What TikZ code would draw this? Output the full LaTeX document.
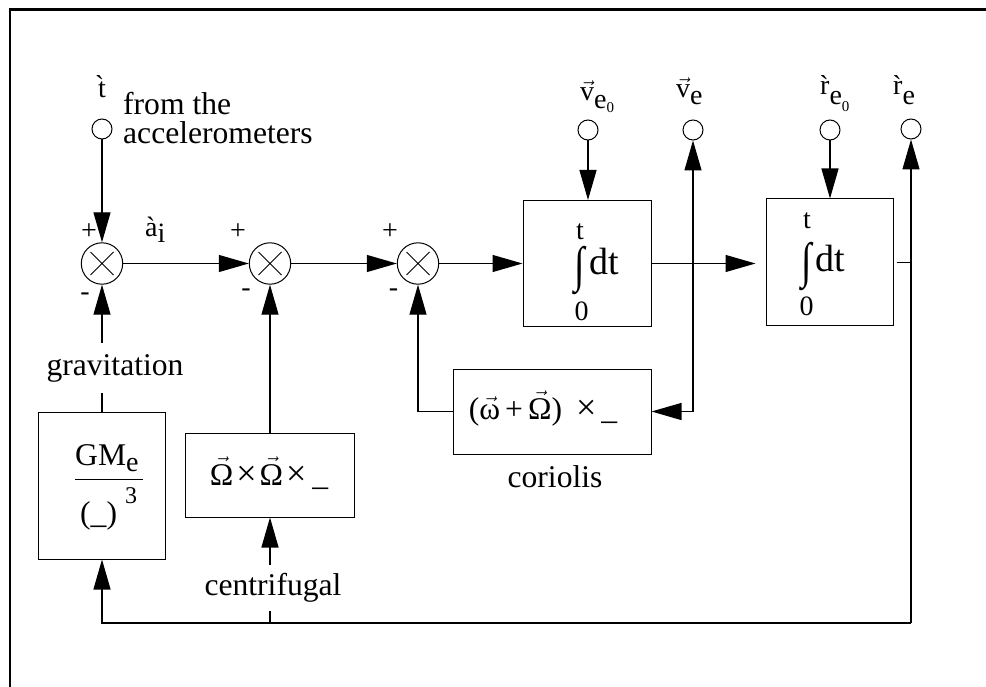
\documentclass[tikz,border=0pt]{standalone}
\usepackage{fontspec}
\usepackage{graphicx}
\setmainfont{Liberation Serif}
\usetikzlibrary{arrows.meta}
\newcommand\vv[1]{\ensuremath{\vec{\hbox{#1}}}}
\newcommand\fsz[1]{\fontsize{#1}{#1}\selectfont}
\begin{document}
\begin{tikzpicture}[x=1pt,y=-1pt,
  lbl/.style={font=\fsz{31.6}, inner sep=0},
  sym/.style={font=\fsz{28}, inner sep=0},
  intg/.style={font=\fsz{38}, inner sep=0},
  blk/.style={draw, line width=1pt, inner sep=0, rectangle},
  sumj/.style={draw, circle, line width=1pt, minimum size=41.4pt, inner sep=0,
    path picture={\draw[line width=1pt]
      ([shift={(-11.5pt,-11.5pt)}]path picture bounding box.center) -- ++(23pt,23pt)
      ([shift={(-11.5pt,11.5pt)}]path picture bounding box.center) -- ++(23pt,-23pt);}},
  dotn/.style={draw, circle, line width=1pt, minimum size=20pt, inner sep=0},
  con/.style={line width=1.2pt},
  arr/.style={con, -{Triangle[length=30pt,width=17pt]}},
  darr/.style={con, {Triangle[length=30pt,width=17pt]}-{Triangle[length=30pt,width=17pt]}},
  ]
\useasboundingbox (0,0) rectangle (986,687);
% outer frame (top and left only visible)
\draw[line width=2.5pt] (10,687) -- (10,9.5) -- (986,9.5);

% main nodes
\node[dotn] (fdot) at (102,129) {};
\node[sumj] (s1) at (102,263.5) {};
\node[sumj] (s2) at (270,263.5) {};
\node[sumj] (s3) at (418,263.5) {};
\node[blk, minimum width=128pt, minimum height=126pt] (i1) at (587,263.5) {};
\node[blk, minimum width=127pt, minimum height=127pt] (i2) at (829.5,262.5) {};
\node[dotn] (v0dot) at (588,130) {};
\node[dotn] (vdot) at (693,130) {};
\node[dotn] (r0dot) at (830,130) {};
\node[dotn] (rdot) at (911,129) {};
\node[blk, minimum width=198pt, minimum height=85pt] (cor) at (552,411.5) {};
\node[blk, minimum width=127pt, minimum height=147pt] (gm) at (102,485.5) {};
\node[blk, minimum width=169pt, minimum height=84pt] (cen) at (270,475) {};
\coordinate (fbR) at (911,623);

% connectors
\draw[arr] (fdot) -- (s1);
\draw[arr] (s1) -- (s2);
\draw[arr] (s2) -- (s3);
\draw[arr] (s3) -- (i1);
\draw[arr] (v0dot.south) -- (v0dot.south |- i1.north);
\draw[arr, shorten >=10pt] (i1.east) -- (i1.east -| i2.west);
\draw[arr] (r0dot.south) -- (r0dot.south |- i2.north);
\draw[con] ([xshift=3pt]i2.east) -- (i2.east -| rdot.south);
\draw[arr] (fbR) -- (rdot.south);
\draw[arr] (fbR) -| (gm.south);
\draw[arr] (cen.south |- fbR) -- (cen.south);
\draw[arr] (gm.north) -- (s1.south);
\draw[arr] (cen.north) -- (s2.south);
\draw[darr] (cor.east) -| (vdot.south);
\draw[arr] (cor.west) -| (s3.south);

% labels interrupting lines
\node[lbl, fill=white, minimum height=50pt] (grav) at (115,368) {gravitation};
\node[lbl, fill=white, minimum height=46pt] (cfl) at (273,588) {centrifugal};
\node[lbl, anchor=base] (corl) at (555,487) {coriolis};

% input / output labels
\node[sym, anchor=base] (flab) at (102,98) {\`t};
\node[lbl, anchor=base west] (acc1) at (123,115) {from the};
\node[lbl, anchor=base west] (acc2) at (123,144) {accelerometers};
\node[sym, anchor=base west] (alab) at (145,237) {\`a\raisebox{-6pt}{i}};
\node[sym, anchor=base west] (v0lab) at (580,101) {\vv{v}\raisebox{-8pt}{e\raisebox{-4pt}{\fsz{15}0}}};
\node[sym, anchor=base west] (vlab) at (676,98) {\vv{v}\raisebox{-7pt}{e}};
\node[sym, anchor=base west] (r0lab) at (820,95) {\`r\raisebox{-10pt}{e\raisebox{-7pt}{\fsz{15}0}}};
\node[sym, anchor=base west] (rlab) at (893,95) {\`r\raisebox{-10pt}{e}};

% signs at the junctions
\node[sym] (p1) at (89,232) {+};
\node[sym] (m1) at (85,297) {-};
\node[sym] (p2) at (238,232) {+};
\node[sym] (m2) at (246,293) {-};
\node[sym] (p3) at (390,232) {+};
\node[sym] (m3) at (393.5,293) {-};

% integrators
\node[sym, anchor=base] (i1t) at (580,240) {t};
\node[intg] (i1int) at (580,270.5) {\scalebox{1}[1.3]{∫}};
\node[intg, anchor=base west] (i1dt) at (589,275) {dt};
\node[sym, anchor=base] (i1z) at (581.5,320) {0};
\node[sym, anchor=base] (i2t) at (807,229) {t};
\node[intg] (i2int) at (806.7,266) {\scalebox{1}[1.3]{∫}};
\node[intg, anchor=base west] (i2dt) at (815,271.7) {dt};
\node[sym, anchor=base] (i2z) at (806.5,316) {0};

% block contents
\node[lbl, anchor=base] (corf) at (543,419) {(\vv{ω}\hspace{5pt}+\hspace{5pt}\vv{Ω})\hspace{14pt}{\fsz{36}×}\hspace{5pt}\_};
\node[lbl, anchor=base] (cenf) at (269,485) {\vv{Ω}\hspace{3pt}{\fsz{36}×}\hspace{3pt}\vv{Ω}\hspace{3pt}{\fsz{36}×}\hspace{6pt}\_};
\node[lbl, anchor=base west] (gmt) at (75,465) {GM\raisebox{-6pt}{\fsz{28}e}};
\draw[line width=1pt] (75,479) -- (143,479);
\node[lbl, anchor=base west] (gmb) at (80,523) {(\_)\hspace{8pt}\raisebox{20pt}{\fsz{24}3}};
\end{tikzpicture}
\end{document}
